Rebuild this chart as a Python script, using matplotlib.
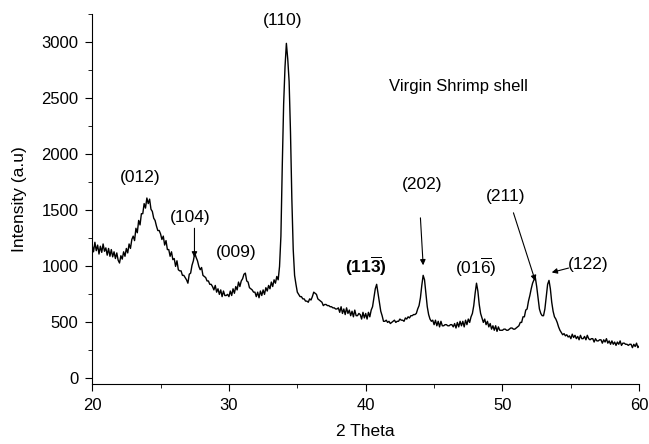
import numpy as np
import matplotlib
matplotlib.use("Agg")
import matplotlib.pyplot as plt
from matplotlib.ticker import MultipleLocator

plt.rcParams['font.family'] = ['Liberation Sans', 'DejaVu Sans']
plt.rcParams['mathtext.fontset'] = 'custom'
plt.rcParams['mathtext.rm'] = 'Liberation Sans'
plt.rcParams['mathtext.bf'] = 'Liberation Sans:bold'

# scan grid, 0.1 deg step from 20 to 60
two_theta = np.round(np.arange(20.0, 60.05, 0.1), 1)

# intensity, one row per degree
intensity = [
    1190, 1130, 1215, 1140, 1190, 1110, 1180, 1125, 1200, 1135,  # 20
    1165, 1100, 1160, 1090, 1150, 1085, 1130, 1070, 1120, 1055,  # 21
    1030, 1095, 1065, 1130, 1090, 1160, 1120, 1200, 1160, 1240,  # 22
    1270, 1230, 1340, 1300, 1410, 1370, 1470, 1470, 1560, 1520,  # 23
    1610, 1560, 1600, 1510, 1490, 1430, 1410, 1360, 1320, 1320,  # 24
    1290, 1240, 1270, 1190, 1230, 1150, 1150, 1090, 1130, 1060,  # 25
    1070, 1000, 1050, 970, 960, 960, 920, 920, 900, 880,         # 26
    850, 930, 940, 1010, 1050, 1120, 1080, 1050, 1000, 970,      # 27
    990, 920, 910, 900, 870, 870, 840, 840, 820, 790,            # 28
    830, 770, 800, 750, 790, 730, 780, 740, 740, 750,            # 29
    730, 780, 740, 800, 760, 820, 790, 860, 820, 870,            # 30
    890, 930, 940, 870, 860, 810, 800, 790, 770, 770,            # 31
    730, 770, 720, 780, 740, 790, 750, 810, 780, 830,            # 32
    800, 860, 820, 880, 850, 910, 880, 1000, 1270, 1900,         # 33
    2450, 2780, 2990, 2850, 2650, 2200, 1600, 1150, 920, 840,    # 34
    770, 750, 730, 730, 710, 710, 690, 690, 680, 710,            # 35
    700, 730, 770, 760, 750, 710, 700, 690, 680, 650,            # 36
    660, 660, 650, 650, 640, 640, 630, 630, 620, 620,            # 37
    630, 590, 640, 580, 620, 570, 630, 580, 610, 560,            # 38
    600, 550, 610, 560, 560, 580, 570, 530, 590, 540,            # 39
    580, 530, 590, 550, 610, 640, 720, 800, 840, 760,            # 40
    680, 600, 560, 510, 510, 520, 500, 510, 490, 500,            # 41
    510, 520, 500, 510, 510, 530, 520, 520, 510, 540,            # 42
    530, 550, 540, 560, 560, 570, 570, 580, 620, 650,            # 43
    720, 830, 920, 880, 760, 640, 570, 530, 510, 520,            # 44
    480, 520, 470, 510, 460, 510, 470, 470, 480, 480,            # 45
    470, 470, 480, 480, 460, 490, 450, 500, 460, 510,            # 46
    470, 510, 460, 520, 480, 530, 500, 550, 580, 650,            # 47
    760, 850, 780, 660, 580, 540, 500, 530, 480, 510,            # 48
    460, 490, 440, 470, 430, 470, 420, 460, 430, 430,            # 49
    430, 440, 440, 430, 430, 440, 450, 450, 440, 440,            # 50
    450, 460, 470, 500, 500, 550, 550, 610, 620, 690,            # 51
    740, 800, 850, 880, 900, 820, 720, 620, 580, 560,            # 52
    560, 620, 730, 840, 875, 800, 680, 600, 550, 530,            # 53
    500, 460, 430, 410, 390, 400, 380, 390, 370, 380,            # 54
    355, 395, 365, 385, 355, 375, 345, 385, 355, 355,            # 55
    375, 345, 385, 355, 345, 355, 355, 325, 355, 335,            # 56
    335, 345, 345, 315, 345, 325, 355, 315, 335, 305,            # 57
    335, 305, 325, 295, 325, 305, 335, 295, 315, 315,            # 58
    305, 305, 295, 305, 305, 275, 305, 285, 315, 275,            # 59
    290,                                                         # 60
]

# (label, text x, text y)
peak_labels = [
    ('(012)', 23.5, 1790),
    ('(104)', 27.2, 1440),
    ('(009)', 30.5, 1120),
    ('(110)', 33.9, 3195),
    ('(202)', 44.1, 1727),
    (r'$(01\overline{6})$', 48.05, 988),
    ('(211)', 50.2, 1620),
]

# arrows: (tail x, tail y, head x, head y)
arrows = [
    (27.48, 1340, 27.48, 1080),
    (44.0, 1433, 44.2, 1010),
    (50.8, 1478, 52.4, 870),
    (54.83, 985, 53.6, 946),
]

fig = plt.figure(figsize=(6.49, 4.44), dpi=100)
ax = fig.add_axes([0.142, 0.135, 0.843, 0.833])

ax.plot(two_theta, intensity, color='black', lw=1.0)

ax.set_xlim(20, 60)
ax.set_ylim(-50, 3250)
ax.spines['top'].set_visible(False)
ax.spines['right'].set_visible(False)
ax.xaxis.set_major_locator(MultipleLocator(10))
ax.xaxis.set_minor_locator(MultipleLocator(5))
ax.yaxis.set_major_locator(MultipleLocator(500))
ax.yaxis.set_minor_locator(MultipleLocator(250))
ax.tick_params(which='major', direction='out', length=5, labelsize=12, pad=5)
ax.tick_params(which='minor', direction='out', length=3)
ax.set_xlabel('2 Theta', fontsize=12.5, labelpad=8)
ax.set_ylabel('Intensity (a.u)', fontsize=12.5, labelpad=10)

for lab, tx, ty in peak_labels:
    ax.text(tx, ty, lab, fontsize=12.5, ha='center', va='center')
ax.text(40.0, 997, r'$\mathbf{(11\overline{3})}$', fontsize=12.5,
        ha='center', va='center')
ax.text(54.8, 1015, '(122)', fontsize=12.5, ha='left', va='center')
ax.text(41.7, 2608, 'Virgin Shrimp shell', fontsize=12, ha='left', va='center')

for x0, y0, x1, y1 in arrows:
    ax.annotate('', xy=(x1, y1), xytext=(x0, y0),
                arrowprops=dict(arrowstyle='-|>', color='black', lw=0.8,
                                mutation_scale=8, shrinkA=0, shrinkB=0))

fig.savefig('out.png', dpi=100)
